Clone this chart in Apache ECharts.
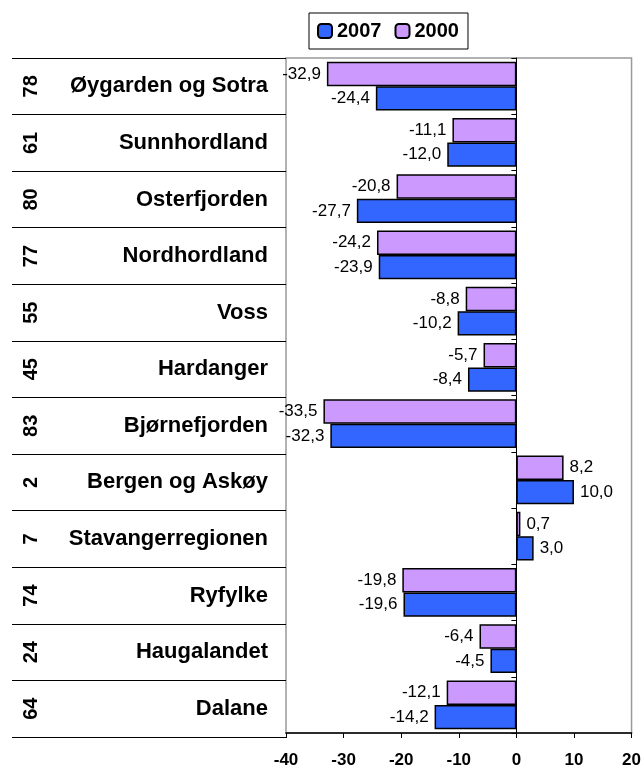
<!DOCTYPE html>
<html><head><meta charset="utf-8">
<script src="https://cdn.jsdelivr.net/npm/echarts@6/dist/echarts.min.js"></script>
<style>html,body{margin:0;padding:0;background:#fff}#c{width:644px;height:769px}</style>
</head><body><div id="c"></div>
<script>
var categories = ["Øygarden og Sotra","Sunnhordland","Osterfjorden","Nordhordland","Voss","Hardanger","Bjørnefjorden","Bergen og Askøy","Stavangerregionen","Ryfylke","Haugalandet","Dalane"];
var ranks = ["78","61","80","77","55","45","83","2","7","74","24","64"];
var v2007 = [-24.4,-12.0,-27.7,-23.9,-10.2,-8.4,-32.3,10.0,3.0,-19.6,-4.5,-14.2];
var v2000 = [-32.9,-11.1,-20.8,-24.2,-8.8,-5.7,-33.5,8.2,0.7,-19.8,-6.4,-12.1];
var xTicks = {min:-40, max:20, interval:10};

var F = "'Liberation Sans', Arial, sans-serif";
function mk(vals){
  return vals.map(function(v){
    return {value:v, label:{position: v<0 ? 'left' : 'right'}};
  });
}
function fmt(p){ return p.value.toFixed(1).replace('.',','); }

var chart = echarts.init(document.getElementById('c'));
chart.setOption({
  animation:false,
  legend:{
    data:['2007','2000'], top:13, left:309,
    borderColor:'#000', borderWidth:1, padding:[8,9,8,8],
    itemWidth:14, itemHeight:14, itemGap:13,
    textStyle:{fontFamily:F, fontWeight:'bold', fontSize:20, color:'#000'}
  },
  grid:[
    {left:286, right:11, top:58, bottom:32, show:true, borderColor:'#999', borderWidth:1.5},
    {left:12, width:274, top:58, bottom:32}
  ],
  xAxis:[
    {type:'value', gridIndex:0, min:xTicks.min, max:xTicks.max, interval:xTicks.interval,
     axisLine:{show:true, onZero:false, lineStyle:{color:'#000', width:1.5}},
     axisTick:{show:true, length:5, lineStyle:{color:'#000'}},
     splitLine:{show:false},
     axisLabel:{fontFamily:F, fontWeight:'bold', fontSize:17, color:'#000', margin:19}},
    {type:'value', gridIndex:1, show:false}
  ],
  yAxis:[
    {type:'category', gridIndex:0, data:categories, inverse:true,
     axisLine:{show:true, onZero:true, lineStyle:{color:'#000', width:1}},
     axisTick:{show:true, length:5, lineStyle:{color:'#000'}},
     axisLabel:{show:false}, splitLine:{show:false}},
    {type:'category', gridIndex:1, data:categories, inverse:true, position:'right',
     axisLine:{show:false}, axisTick:{show:false},
     splitLine:{show:true, lineStyle:{color:'#000', width:1.2}},
     axisLabel:{inside:true, margin:18, fontFamily:F, fontWeight:'bold', fontSize:22, color:'#000'}},
    {type:'category', gridIndex:1, data:ranks, inverse:true, position:'left',
     axisLine:{show:false}, axisTick:{show:false}, splitLine:{show:false},
     axisLabel:{inside:true, rotate:90, margin:9, fontFamily:F, fontWeight:'bold', fontSize:20, color:'#000'}}
  ],
  series:[
    {name:'2000', type:'bar', xAxisIndex:0, yAxisIndex:0, data:mk(v2000),
     barGap:'0%', barCategoryGap:'13%',
     itemStyle:{color:'#CC99FF', borderColor:'#000', borderWidth:1.5},
     label:{show:true, formatter:fmt, fontFamily:F, fontSize:17, color:'#000', distance:6}},
    {name:'2007', type:'bar', xAxisIndex:0, yAxisIndex:0, data:mk(v2007),
     barGap:'0%', barCategoryGap:'13%',
     itemStyle:{color:'#3366FF', borderColor:'#000', borderWidth:1.5},
     label:{show:true, formatter:fmt, fontFamily:F, fontSize:17, color:'#000', distance:6}}
  ]
});
</script></body></html>
